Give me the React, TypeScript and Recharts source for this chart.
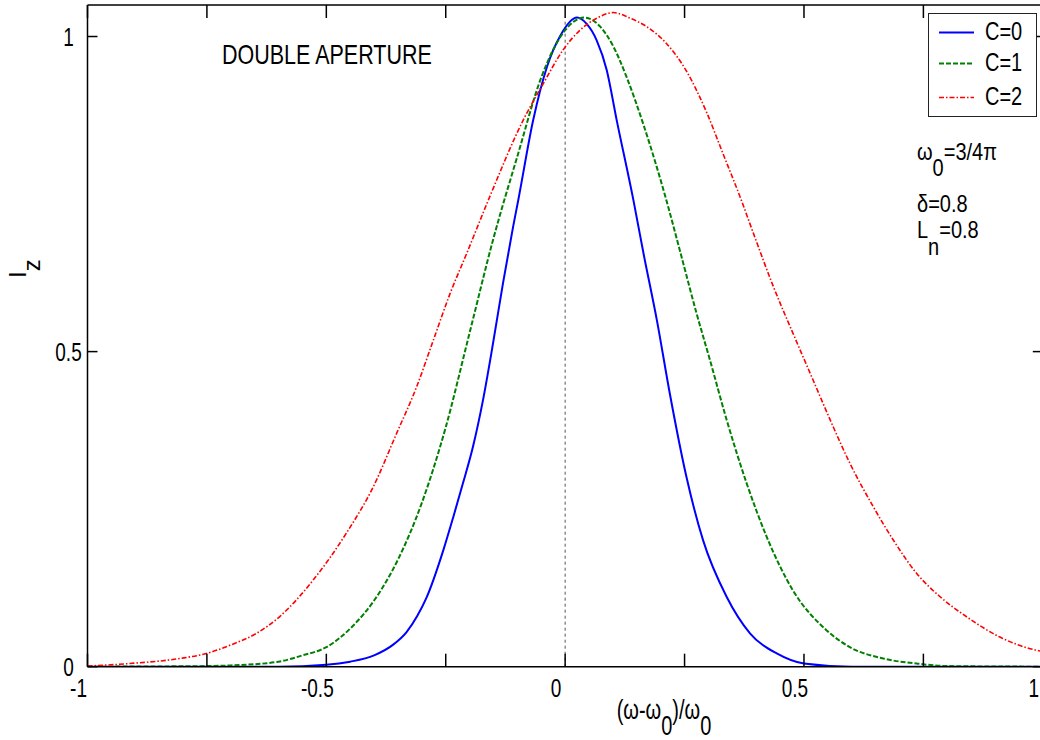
import React from 'react';
import { LineChart, Line, XAxis, YAxis, ReferenceLine, Legend } from 'recharts';

// axis ticks
const xTicks = [-1, -0.75, -0.5, -0.25, 0, 0.25, 0.5, 0.75, 1];
const xLabelled = [-1, -0.5, 0, 0.5, 1];
const yTicks = [0, 0.5, 1];

// C=0 (solid blue)
const c0X = [-1, -0.6, -0.5, -0.45, -0.4, -0.36, -0.332, -0.31, -0.29, -0.255, -0.234, -0.214, -0.193, -0.172, -0.151, -0.13, -0.109, -0.098, -0.067, -0.038, -0.011, 0.025, 0.045, 0.066, 0.087, 0.108, 0.143, 0.164, 0.192, 0.219, 0.254, 0.289, 0.338, 0.387, 0.443, 0.5, 0.6, 1];
const c0Y = [0, 0, 0.003, 0.008, 0.018, 0.035, 0.055, 0.08, 0.11, 0.185, 0.238, 0.291, 0.349, 0.423, 0.513, 0.609, 0.698, 0.741, 0.867, 0.952, 1.0, 1.03, 1.02, 0.994, 0.947, 0.867, 0.74, 0.656, 0.55, 0.434, 0.301, 0.2, 0.111, 0.053, 0.021, 0.005, 0, 0];

// C=1 (dashed green)
const c1X = [-1, -0.75, -0.7, -0.6, -0.55, -0.5, -0.444, -0.4, -0.35, -0.3, -0.25, -0.2, -0.15, -0.1, -0.05, 0, 0.04, 0.073, 0.101, 0.129, 0.164, 0.212, 0.24, 0.275, 0.303, 0.338, 0.38, 0.422, 0.477, 0.547, 0.596, 0.666, 0.736, 0.8, 1];
const c1Y = [0, 0.001, 0.002, 0.008, 0.018, 0.031, 0.065, 0.105, 0.17, 0.26, 0.38, 0.53, 0.68, 0.81, 0.935, 1.01, 1.03, 1.016, 0.984, 0.935, 0.86, 0.74, 0.661, 0.561, 0.487, 0.392, 0.291, 0.206, 0.121, 0.058, 0.031, 0.013, 0.005, 0.001, 0];

// C=2 (dash-dot red)
const c2X = [-1, -0.912, -0.807, -0.751, -0.702, -0.646, -0.597, -0.528, -0.458, -0.402, -0.353, -0.311, -0.276, -0.241, -0.206, -0.161, -0.088, -0.046, -0.004, 0.031, 0.066, 0.101, 0.136, 0.17, 0.212, 0.254, 0.296, 0.33, 0.369, 0.394, 0.436, 0.477, 0.519, 0.561, 0.596, 0.645, 0.687, 0.736, 0.785, 0.841, 0.91, 0.987, 1];
const c2Y = [0.001, 0.005, 0.013, 0.021, 0.034, 0.053, 0.08, 0.137, 0.212, 0.285, 0.37, 0.444, 0.518, 0.592, 0.656, 0.74, 0.867, 0.925, 0.979, 1.01, 1.029, 1.038, 1.029, 1.016, 0.989, 0.945, 0.88, 0.815, 0.74, 0.688, 0.603, 0.529, 0.455, 0.381, 0.323, 0.254, 0.201, 0.148, 0.111, 0.079, 0.047, 0.026, 0.024];

// dotted marker at omega = omega0
const centreLine = [{ x: 0, y: 0 }, { x: 0, y: 1.025 }];

const FONT = '"Liberation Sans", Arial, Helvetica, sans-serif';

const toPoints = (xs: number[], ys: number[]) => xs.map((x, i) => ({ x, y: ys[i] }));

const series = [
  { name: 'C=0', data: toPoints(c0X, c0Y), color: '#0000ff', dash: undefined as string | undefined, width: 2 },
  { name: 'C=1', data: toPoints(c1X, c1Y), color: '#008000', dash: '5 2', width: 2 },
  { name: 'C=2', data: toPoints(c2X, c2Y), color: '#ff0000', dash: '5 2 1.5 2', width: 1.6 },
];

const SText = ({ x, y, size, anchor = 'start', sy = 1.3, children }: any) => (
  <text
    transform={`translate(${x},${y}) scale(1,${sy})`}
    fontSize={size}
    fontFamily={FONT}
    textAnchor={anchor}
    fill="#000"
  >
    {children}
  </text>
);

const BottomTick = ({ x, y, payload }: any) => (
  <g>
    <line x1={x} y1={y} x2={x} y2={y - 13} stroke="#000" strokeWidth={1.5} />
    {xLabelled.includes(payload.value) && (
      <SText x={x - 9} y={y + 30} size={19} anchor="middle" sy={1.35}>
        {String(payload.value)}
      </SText>
    )}
  </g>
);

const TopTick = ({ x, y }: any) => <line x1={x} y1={y} x2={x} y2={y + 13} stroke="#000" strokeWidth={1.5} />;

const LeftTick = ({ x, y, payload }: any) => (
  <g>
    <line x1={x} y1={y} x2={x + 10} y2={y} stroke="#000" strokeWidth={1.5} />
    <SText x={x - 19} y={y + 9} size={19} anchor="middle" sy={1.35}>
      {String(payload.value)}
    </SText>
  </g>
);

const RightTick = ({ x, y }: any) => <line x1={x} y1={y} x2={x - 10} y2={y} stroke="#000" strokeWidth={1.5} />;

const rowY = [19.5, 50.5, 84.5];

const renderLegend = (props: any) => {
  const items = props.payload || [];
  return (
    <svg width={110} height={105} style={{ display: 'block' }}>
      <rect x={0.5} y={0.5} width={108} height={103} fill="#fff" stroke="#222" strokeWidth={1} />
      {items.map((it: any, i: number) => {
        const s = series.find((d) => d.name === it.value) || series[i];
        return (
          <g key={s.name}>
            <line x1={11} x2={46} y1={rowY[i]} y2={rowY[i]} stroke={s.color} strokeWidth={s.width} strokeDasharray={s.dash} />
            <SText x={57} y={rowY[i] + 7.5} size={20} sy={1.3}>{s.name}</SText>
          </g>
        );
      })}
    </svg>
  );
};

export default function App() {
  return (
    <div style={{ position: 'absolute', left: 0, top: 0, width: 1040, height: 740, overflow: 'hidden', background: '#fff' }}>
      <LineChart width={1060} height={740} margin={{ top: 0, right: 0, bottom: 0, left: 0 }}>
        <XAxis
          xAxisId={0}
          dataKey="x"
          type="number"
          domain={[-1, 1]}
          ticks={xTicks}
          interval={0}
          height={73.3}
          tickSize={0}
          tickMargin={0}
          tickLine={false}
          axisLine={{ stroke: '#000', strokeWidth: 1.5 }}
          tick={(p: any) => <BottomTick {...p} />}
          allowDataOverflow
        />
        <XAxis
          xAxisId="top"
          orientation="top"
          dataKey="x"
          type="number"
          domain={[-1, 1]}
          ticks={xTicks}
          interval={0}
          height={5}
          tickSize={0}
          tickMargin={0}
          tickLine={false}
          axisLine={{ stroke: '#000', strokeWidth: 1.5 }}
          tick={(p: any) => <TopTick {...p} />}
          allowDataOverflow
        />
        <YAxis
          yAxisId={0}
          type="number"
          domain={[0, 1.05]}
          ticks={yTicks}
          interval={0}
          width={87.5}
          tickSize={0}
          tickMargin={0}
          tickLine={false}
          axisLine={{ stroke: '#000', strokeWidth: 1.5 }}
          tick={(p: any) => <LeftTick {...p} />}
          allowDataOverflow
        />
        <YAxis
          yAxisId="right"
          orientation="right"
          type="number"
          domain={[0, 1.05]}
          ticks={yTicks}
          interval={0}
          width={17.2}
          tickSize={0}
          tickMargin={0}
          tickLine={false}
          axisLine={{ stroke: '#000', strokeWidth: 1.5 }}
          tick={(p: any) => <RightTick {...p} />}
          allowDataOverflow
        />
        <ReferenceLine
          xAxisId={0}
          yAxisId={0}
          segment={centreLine}
          stroke="#555"
          strokeWidth={1}
          strokeDasharray="3 3"
        />
        {series.map((s) => (
          <Line
            key={s.name}
            xAxisId={0}
            yAxisId={0}
            data={s.data}
            dataKey="y"
            name={s.name}
            type="monotone"
            stroke={s.color}
            strokeWidth={s.width}
            strokeDasharray={s.dash}
            dot={false}
            activeDot={false}
            isAnimationActive={false}
          />
        ))}
        <Legend
          layout="horizontal"
          align="center"
          verticalAlign="middle"
          content={renderLegend}
          wrapperStyle={{ left: 928, top: 13, right: 'auto', bottom: 'auto', width: 110, height: 105 }}
        />
        <g>
          <SText x={222} y={64} size={21.5} sy={1.3}>DOUBLE APERTURE</SText>
          <SText x={917} y={160} size={20} sy={1.2}>
            ω<tspan dy={13}>0</tspan><tspan dy={-13}>=3/4π</tspan>
          </SText>
          <SText x={917} y={212} size={20} sy={1.2}>δ=0.8</SText>
          <SText x={917} y={238} size={20} sy={1.2}>
            L<tspan dy={14}>n</tspan><tspan dy={-14}>=0.8</tspan>
          </SText>
          <SText x={664} y={719} size={20} anchor="middle" sy={1.35}>
            (ω-ω<tspan dy={12}>0</tspan><tspan dy={-12}>)/ω</tspan><tspan dy={12}>0</tspan>
          </SText>
          <text transform="translate(26,278) rotate(-90)" fontSize={24} fontFamily={FONT} fill="#000">
            I<tspan dy={14}>z</tspan>
          </text>
        </g>
      </LineChart>
    </div>
  );
}
